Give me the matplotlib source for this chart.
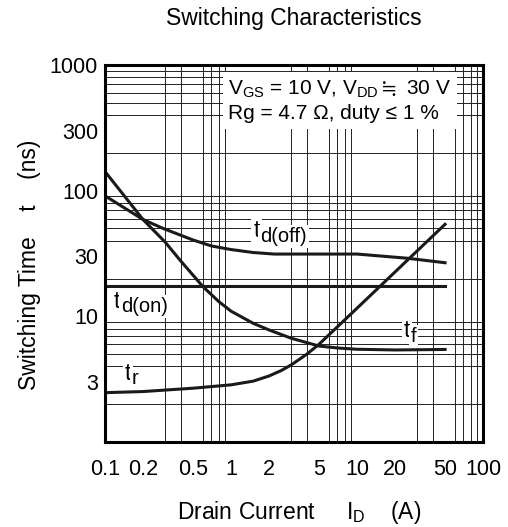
import matplotlib
matplotlib.use('Agg')
import matplotlib.pyplot as plt
from matplotlib.ticker import FixedLocator, FixedFormatter, LogLocator, NullFormatter

plt.rcParams['font.family'] = ['Liberation Sans', 'DejaVu Sans']
plt.rcParams['mathtext.default'] = 'regular'

# values (ID in A, t in ns)
id_doff = [0.1, 0.2, 0.29, 0.5, 0.7, 1.0, 1.5, 2.2, 5, 10, 25, 50]
t_doff = [91, 59, 50, 40.5, 36.3, 34, 32.2, 31.3, 31.3, 31.3, 29, 26.7]

id_don = [0.1, 50]
t_don = [17.3, 17.3]

id_f = [0.1, 0.15, 0.2, 0.3, 0.4, 0.6, 0.8, 1.0, 1.5, 2, 3, 5, 7, 10, 20, 50]
t_f = [142, 85, 59, 39, 27.5, 17.2, 13.1, 11, 8.8, 7.8, 6.7, 5.8, 5.6, 5.47, 5.4, 5.45]

id_r = [0.1, 0.2, 0.5, 1, 1.5, 2, 2.5, 3, 4, 5, 10, 20, 50]
t_r = [2.47, 2.52, 2.68, 2.85, 3.05, 3.35, 3.7, 4.1, 5.0, 6.0, 11.6, 22.5, 54]

x_ticks = [0.1, 0.2, 0.5, 1, 2, 5, 10, 20, 50, 100]
x_ticklabels = ['0.1', '0.2', '0.5', '1', '2', '5', '10', '20', '50', '100']
y_ticks = [3, 10, 30, 100, 300, 1000]
y_ticklabels = ['3', '10', '30', '100', '300', '1000']

# curve labels: subscript text, anchor (ID, t) of the "t"
curve_labels = ['d(off)', 'd(on)', 'f', 'r']
label_pos = [(1.5, 42.5), (0.118, 11.7), (23.6, 6.8), (0.144, 3.12)]

fig = plt.figure(figsize=(5.08, 5.27), dpi=100)
ax = fig.add_axes([105 / 508, 1 - 442 / 527, 378 / 508, 377 / 527])
ax.set_xscale('log')
ax.set_yscale('log')
ax.set_xlim(0.1, 100)
ax.set_ylim(1, 1000)

ax.xaxis.set_minor_locator(LogLocator(base=10, subs=range(1, 10), numticks=20))
ax.yaxis.set_minor_locator(LogLocator(base=10, subs=range(1, 10), numticks=20))
ax.xaxis.set_minor_formatter(NullFormatter())
ax.yaxis.set_minor_formatter(NullFormatter())
ax.grid(which='minor', color='#222222', lw=0.7)
ax.xaxis.set_major_locator(FixedLocator(x_ticks))
ax.xaxis.set_major_formatter(FixedFormatter(x_ticklabels))
ax.yaxis.set_major_locator(FixedLocator(y_ticks))
ax.yaxis.set_major_formatter(FixedFormatter(y_ticklabels))
ax.tick_params(which='both', length=0, labelsize=15.5, pad=5)
ax.tick_params(axis='x', pad=12)
for s in ax.spines.values():
    s.set_linewidth(2.2)

lw = 2.2
ax.plot(id_doff, t_doff, color='#1a1a1a', lw=lw)
ax.plot(id_don, t_don, color='#1a1a1a', lw=lw)
ax.plot(id_f, t_f, color='#1a1a1a', lw=lw)
ax.plot(id_r, t_r, color='#1a1a1a', lw=lw)

box = dict(facecolor='white', edgecolor='none', pad=1.5)
for sub, (lx, ly) in zip(curve_labels, label_pos):
    t = ax.text(lx, ly, 't', fontsize=16.5, ha='left', va='baseline', bbox=box, zorder=5)
    ax.annotate(sub, xy=(1, 0), xycoords=t, xytext=(0.3, 0.5), textcoords='offset points',
                fontsize=14.5, ha='left', va='baseline', bbox=box, zorder=5)

ax.text(0.95, 518, r'$V_{GS}$ = 10 V, $V_{DD}\fallingdotseq$ 30 V' + '\n' + 'Rg = 4.7 Ω, duty ≤ 1 %',
        fontsize=15, ha='left', va='center', linespacing=1.3,
        bbox=dict(facecolor='white', edgecolor='none', pad=4))

fig.text(294 / 508, 1 - 18 / 527, 'Switching Characteristics', fontsize=16.5, ha='center', va='center')
fig.text(299 / 508, 1 - 512 / 527, r'Drain Current     $I_D$    (A)', fontsize=16.5, ha='center', va='center')
fig.text(30 / 508, 1 - 265 / 527, 'Switching Time    t    (ns)', fontsize=16.5, ha='center', va='center',
         rotation=90)

fig.savefig('out.png', dpi=100)
